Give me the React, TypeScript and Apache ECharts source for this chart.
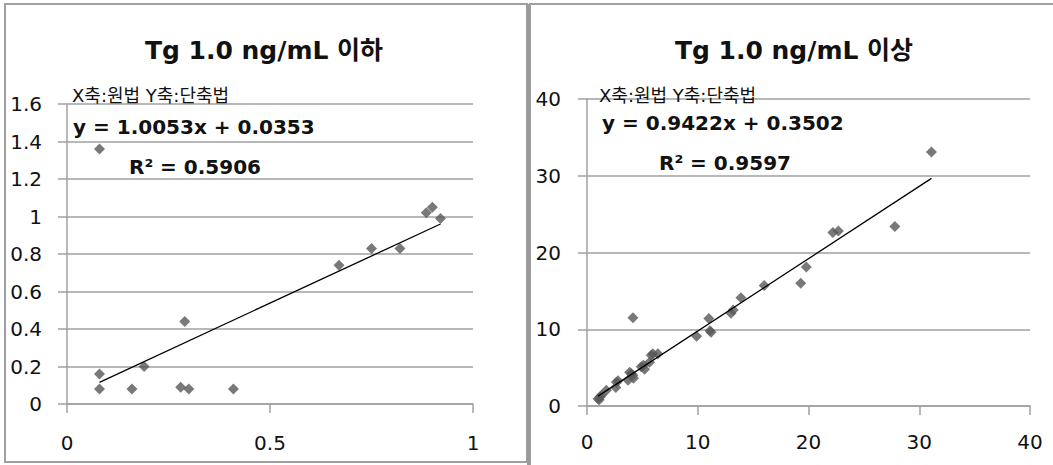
import React, { useEffect, useRef } from "react";
import * as echarts from "echarts";

// Left panel: Tg <= 1.0 ng/mL
const lowOriginal = [0.08, 0.08, 0.08, 0.16, 0.19, 0.28, 0.29, 0.30, 0.41, 0.67, 0.75, 0.82, 0.885, 0.90, 0.92];
const lowShort = [1.36, 0.16, 0.08, 0.08, 0.20, 0.09, 0.44, 0.08, 0.08, 0.74, 0.83, 0.83, 1.02, 1.05, 0.99];
const lowSlope = 1.0053;
const lowIntercept = 0.0353;
const lowEquation = "y = 1.0053x + 0.0353";
const lowR2 = "R² = 0.5906";
const lowTitle = "Tg 1.0 ng/mL 이하";

// Right panel: Tg >= 1.0 ng/mL
const highOriginal = [1.0, 1.1, 1.2, 1.3, 1.75, 2.6, 2.65, 2.8, 3.7, 3.85, 4.0, 4.15, 4.2, 4.9, 5.1, 5.2, 5.65, 5.8, 5.95, 6.4, 4.15, 9.9, 11.0, 11.1, 11.2, 13.0, 13.2, 13.9, 16.0, 19.3, 19.8, 22.2, 22.7, 27.8, 31.1];
const highShort = [0.95, 0.8, 1.2, 1.4, 2.05, 2.4, 3.1, 3.3, 3.35, 4.4, 4.2, 4.0, 3.6, 5.1, 5.3, 4.8, 5.7, 6.6, 6.8, 6.8, 11.5, 9.1, 11.4, 9.8, 9.6, 12.1, 12.5, 14.1, 15.7, 16.0, 18.1, 22.6, 22.8, 23.4, 33.1];
const highSlope = 0.9422;
const highIntercept = 0.3502;
const highEquation = "y = 0.9422x + 0.3502";
const highR2 = "R² = 0.9597";
const highTitle = "Tg 1.0 ng/mL 이상";

const axisNote = "X축:원법 Y축:단축법";

const lowYTicks = { min: 0, max: 1.6, interval: 0.2 };
const lowXTicks = { min: 0, max: 1, interval: 0.5 };
const highYTicks = { min: 0, max: 40, interval: 10 };
const highXTicks = { min: 0, max: 40, interval: 10 };

const FONT = "'DejaVu Sans', 'Noto Sans CJK KR', sans-serif";
const GRID_COLOR = "#a0a0a0";
const MARK_COLOR = "#585858";

function pairs(xs: number[], ys: number[]) {
  return xs.map((x, i) => [x, ys[i]]);
}
function trend(xs: number[], slope: number, intercept: number) {
  const lo = Math.min(...xs);
  const hi = Math.max(...xs);
  return [
    [lo, slope * lo + intercept],
    [hi, slope * hi + intercept],
  ];
}

function xAxis(idx: number, t: { min: number; max: number; interval: number }, margin: number) {
  return {
    type: "value",
    gridIndex: idx,
    min: t.min,
    max: t.max,
    interval: t.interval,
    splitLine: { show: false },
    axisLine: { show: true, onZero: false, lineStyle: { color: GRID_COLOR, width: 1.5 } },
    axisTick: { show: true, inside: false, length: 9, lineStyle: { color: GRID_COLOR, width: 1.5 } },
    axisLabel: { color: "#111", fontSize: 20, fontFamily: FONT, margin },
  };
}
function yAxis(idx: number, t: { min: number; max: number; interval: number }, margin: number) {
  return {
    type: "value",
    gridIndex: idx,
    min: t.min,
    max: t.max,
    interval: t.interval,
    splitLine: { show: true, lineStyle: { color: GRID_COLOR, width: 1.5 } },
    axisLine: { show: true, onZero: false, lineStyle: { color: GRID_COLOR, width: 1.5 } },
    axisTick: { show: true, inside: false, length: 9, lineStyle: { color: GRID_COLOR, width: 1.5 } },
    axisLabel: { color: "#111", fontSize: 20, fontFamily: FONT, margin },
  };
}

function text(x: number, y: number, str: string, size: number, bold: boolean, align = "left") {
  return {
    type: "text",
    x,
    y,
    z: 10,
    style: {
      text: str,
      fill: "#111",
      font: `${bold ? "bold " : ""}${size}px ${FONT}`,
      textAlign: align,
      textVerticalAlign: "middle",
    },
  };
}

export default function App() {
  const ref = useRef<HTMLDivElement>(null);
  useEffect(() => {
    if (!ref.current) return;
    const chart = echarts.init(ref.current, null, { renderer: "svg" });
    chart.setOption({
      animation: false,
      backgroundColor: "#fff",
      grid: [
        { left: 67, top: 104, width: 406, height: 300 },
        { left: 587, top: 99, width: 443, height: 307 },
      ],
      xAxis: [xAxis(0, lowXTicks, 29), xAxis(1, highXTicks, 26)],
      yAxis: [yAxis(0, lowYTicks, 25), yAxis(1, highYTicks, 26)],
      series: [
        {
          type: "scatter",
          xAxisIndex: 0,
          yAxisIndex: 0,
          symbol: "diamond",
          symbolSize: 11,
          itemStyle: { color: MARK_COLOR },
          data: pairs(lowOriginal, lowShort),
        },
        {
          type: "line",
          xAxisIndex: 0,
          yAxisIndex: 0,
          symbol: "none",
          lineStyle: { color: "#000", width: 1.3 },
          data: trend(lowOriginal, lowSlope, lowIntercept),
        },
        {
          type: "scatter",
          xAxisIndex: 1,
          yAxisIndex: 1,
          symbol: "diamond",
          symbolSize: 11,
          itemStyle: { color: MARK_COLOR },
          data: pairs(highOriginal, highShort),
        },
        {
          type: "line",
          xAxisIndex: 1,
          yAxisIndex: 1,
          symbol: "none",
          lineStyle: { color: "#000", width: 1.3 },
          data: trend(highOriginal, highSlope, highIntercept),
        },
      ],
      graphic: [
        {
          type: "rect",
          shape: { x: 5, y: 4, width: 522, height: 458 },
          style: { fill: "none", stroke: "#a0a0a0", lineWidth: 2 },
        },
        {
          type: "rect",
          shape: { x: 530, y: 4, width: 540, height: 480 },
          style: { fill: "none", stroke: "#a0a0a0", lineWidth: 2 },
        },
        {
          type: "rect",
          shape: { x: 527, y: 4, width: 3, height: 461 },
          style: { fill: "#9a9a9a" },
        },
        text(264, 50, lowTitle, 25, true, "center"),
        text(72, 95, axisNote, 18, false),
        text(73, 127, lowEquation, 20, true),
        text(129, 167, lowR2, 20, true),
        text(794, 50, highTitle, 25, true, "center"),
        text(599, 95, axisNote, 18, false),
        text(602, 123, highEquation, 20, true),
        text(659, 163, highR2, 20, true),
      ],
    });
    return () => chart.dispose();
  }, []);
  return (
    <div
      ref={ref}
      style={{ position: "fixed", left: 0, top: 0, width: 1053, height: 465 }}
    />
  );
}
